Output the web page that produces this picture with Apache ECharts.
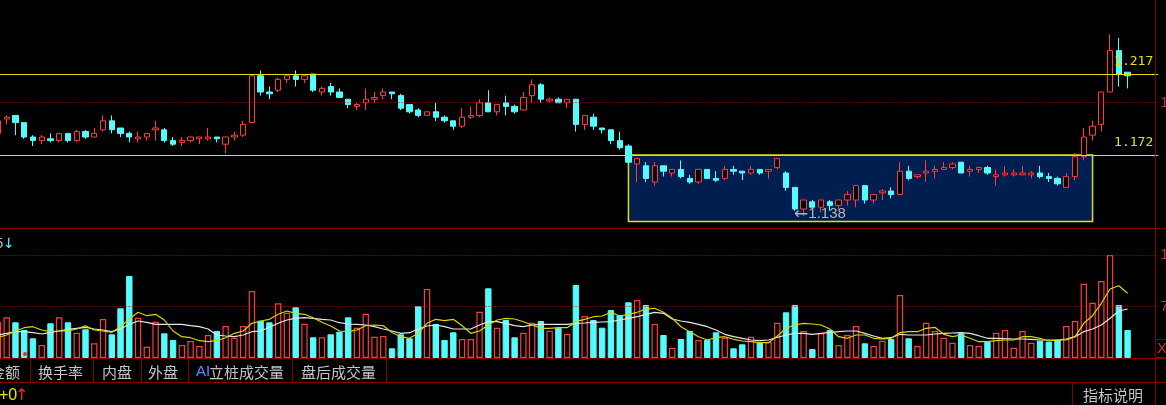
<!DOCTYPE html>
<html><head><meta charset="utf-8">
<script src="https://cdn.jsdelivr.net/npm/echarts@6/dist/echarts.min.js"></script>
<style>html,body{margin:0;padding:0;background:#000;overflow:hidden}#c{width:1166px;height:405px}</style>
</head><body><div id="c"></div><script>
// ---- data ----
const categories = Array.from({length:130}, (_, i) => 'D' + (i + 1));
const opens = [1.184,1.192,1.194,1.190,1.182,1.180,1.181,1.180,1.184,1.180,
1.185,1.182,1.186,1.191,1.187,1.184,1.181,1.182,1.186,1.186,
1.180,1.179,1.180,1.181,1.181,1.182,1.178,1.182,1.183,1.190,
1.216,1.207,1.208,1.214,1.216,1.214,1.217,1.207,1.210,1.207,
1.203,1.199,1.201,1.203,1.205,1.207,1.205,1.200,1.197,1.194,
1.196,1.193,1.191,1.188,1.193,1.194,1.201,1.196,1.201,1.199,
1.197,1.205,1.211,1.202,1.203,1.201,1.203,1.189,1.193,1.187,
1.186,1.180,1.177,1.167,1.166,1.157,1.166,1.162,1.164,1.159,
1.157,1.164,1.159,1.159,1.164,1.163,1.162,1.164,1.163,1.165,
1.162,1.154,1.142,1.146,1.143,1.146,1.144,1.147,1.147,1.155,
1.147,1.151,1.152,1.150,1.163,1.160,1.162,1.163,1.164,1.165,
1.168,1.163,1.164,1.165,1.160,1.161,1.161,1.161,1.161,1.162,
1.160,1.159,1.154,1.160,1.171,1.183,1.189,1.207,1.230,1.218];
const closes = [1.191,1.193,1.190,1.182,1.180,1.182,1.180,1.184,1.180,1.185,
1.182,1.184,1.191,1.186,1.184,1.182,1.182,1.184,1.187,1.180,
1.178,1.180,1.182,1.182,1.182,1.181,1.182,1.183,1.189,1.216,
1.207,1.206,1.214,1.216,1.214,1.216,1.208,1.209,1.207,1.204,
1.200,1.200,1.203,1.204,1.207,1.206,1.198,1.196,1.194,1.196,
1.193,1.191,1.188,1.193,1.194,1.201,1.196,1.200,1.199,1.196,
1.204,1.211,1.203,1.203,1.201,1.203,1.189,1.194,1.188,1.186,
1.180,1.176,1.168,1.170,1.159,1.166,1.163,1.164,1.160,1.157,
1.164,1.159,1.158,1.164,1.163,1.162,1.164,1.162,1.164,1.170,
1.154,1.142,1.147,1.143,1.147,1.144,1.147,1.150,1.155,1.147,
1.150,1.152,1.150,1.163,1.159,1.161,1.163,1.164,1.165,1.167,
1.162,1.164,1.165,1.162,1.161,1.162,1.162,1.162,1.162,1.160,
1.159,1.156,1.160,1.171,1.182,1.188,1.207,1.230,1.217,1.216];
const lows = [1.183,1.189,1.183,1.181,1.177,1.178,1.179,1.179,1.179,1.179,
1.181,1.182,1.185,1.184,1.182,1.179,1.179,1.180,1.180,1.179,
1.177,1.177,1.179,1.178,1.180,1.179,1.173,1.180,1.182,1.190,
1.205,1.203,1.207,1.212,1.210,1.212,1.207,1.205,1.205,1.204,
1.198,1.197,1.197,1.201,1.203,1.203,1.197,1.195,1.193,1.194,
1.191,1.190,1.186,1.187,1.192,1.193,1.196,1.194,1.194,1.195,
1.197,1.201,1.201,1.201,1.201,1.198,1.185,1.186,1.186,1.184,
1.178,1.175,1.168,1.157,1.157,1.155,1.160,1.160,1.159,1.156,
1.156,1.159,1.157,1.158,1.161,1.158,1.161,1.161,1.159,1.164,
1.152,1.141,1.138,1.141,1.140,1.141,1.142,1.144,1.143,1.145,
1.145,1.147,1.148,1.150,1.158,1.159,1.157,1.159,1.164,1.164,
1.162,1.160,1.162,1.161,1.155,1.160,1.160,1.161,1.159,1.159,
1.157,1.155,1.154,1.158,1.169,1.180,1.185,1.207,1.210,1.209];
const highs = [1.193,1.194,1.194,1.190,1.183,1.183,1.184,1.184,1.184,1.186,
1.186,1.187,1.194,1.194,1.187,1.185,1.185,1.184,1.191,1.187,
1.182,1.182,1.182,1.182,1.187,1.182,1.182,1.185,1.191,1.217,
1.219,1.210,1.215,1.216,1.219,1.217,1.217,1.210,1.212,1.209,
1.203,1.201,1.209,1.207,1.209,1.207,1.206,1.200,1.198,1.196,
1.201,1.194,1.191,1.198,1.199,1.203,1.208,1.200,1.205,1.200,
1.207,1.214,1.212,1.204,1.204,1.203,1.203,1.194,1.195,1.187,
1.186,1.185,1.178,1.170,1.168,1.168,1.166,1.164,1.169,1.161,
1.164,1.164,1.163,1.166,1.166,1.163,1.166,1.164,1.164,1.170,
1.163,1.154,1.147,1.147,1.147,1.147,1.147,1.152,1.155,1.155,
1.150,1.153,1.154,1.168,1.166,1.161,1.169,1.166,1.168,1.168,
1.168,1.166,1.165,1.166,1.164,1.166,1.164,1.166,1.163,1.166,
1.162,1.160,1.162,1.173,1.187,1.191,1.207,1.239,1.237,1.218];
const volumes = [4893,5532,4852,3806,2678,1767,4716,5532,4852,3439,
3901,1998,5301,3221,6755,11145,5478,1536,4934,3357,
2447,1767,2311,1631,3126,3670,4349,2759,4349,9107,
5070,4852,7435,6157,6891,4662,2814,2814,3221,3575,
5532,4118,6021,2895,2990,1318,3221,2678,7068,9378,
4621,2447,3493,2582,2582,6293,9474,4118,5165,2814,
3439,4798,5029,3711,4118,3262,9922,5709,5165,4118,
6524,5845,7571,7883,7204,4621,3126,1400,2582,3670,
2447,2447,3493,2759,1318,1862,2895,2175,2175,4798,
6212,7204,3670,1223,3357,3806,1767,3126,4349,1998,
1631,2351,2582,8563,2678,1631,4798,3670,2759,2080,
3357,1767,1631,2215,3439,3806,1400,3670,2080,2351,
2215,2447,4349,5029,10099,7516,10466,14000,7204,3806];
const volMA5 = [2814,3126,3670,4118,4254,3806,3575,3670,3670,3942,
4390,3806,3670,3493,4254,5301,6212,5749,5940,5165,
3670,2895,2759,2351,2215,2351,2759,3357,3670,4716,
5029,5260,5940,6388,6076,5940,5478,4852,4349,3670,
3575,3806,4390,4485,4390,3466,2895,2678,3357,4716,
5260,5070,5260,4390,3357,3670,4485,5165,5396,5301,
4934,4485,4037,4037,4118,4118,4934,5260,5613,5709,
6212,5709,5940,6212,6660,6755,6212,5396,4254,3575,
2895,2447,2759,2895,2542,2311,2215,2080,2080,2990,
4037,4485,4716,4621,4485,3942,2895,2678,3126,3126,
2678,2582,2678,3439,3575,3575,4037,4173,3221,2895,
3126,2678,2215,2215,2351,2447,2447,2895,2895,2678,
2311,2447,2447,2895,4716,5749,7435,9378,9827,8794];
const volMA10 = [3126,3357,3575,3575,3439,3262,3493,3670,3901,4037,
4173,3942,3806,3575,3942,4580,5029,4852,4580,4580,
4580,4580,4390,4254,3942,3126,2990,2895,3126,3575,
3670,4173,4716,5165,5396,5478,5396,5260,5165,4798,
4621,4580,4485,4254,3942,3670,3357,3439,3942,4349,
4485,4254,3942,3942,3942,4485,4934,4934,4716,4390,
4254,4485,4580,4580,4580,4580,4716,4757,4852,4893,
4934,5165,5396,5613,5940,6212,6076,5301,5029,4852,
4580,4254,3806,3221,2895,2678,2447,2351,2447,2814,
3126,3357,3357,3221,3357,3493,3575,3670,3670,3357,
2990,2678,2759,3221,3126,3126,3126,3262,3357,3398,
3439,3357,3031,2678,2678,2623,2582,2582,2542,2447,
2447,2447,2582,2895,3575,3942,4485,5396,6388,6660];
const lineLevels = [1.217, 1.172];          // drawn horizontal lines
const boxRange = {from: 72, to: 125, top: 1.172, bottom: 1.135}; // highlighted box
const priceTicks = [1.20117];
const volTicks = [7000, 14000];
const tabs = ['金额', '换手率', '内盘', '外盘', 'AI', '立桩成交量', '盘后成交量'];

// ---- chart ----
const UP = '#ff3c3c', DOWN = '#54fcfc', FRAME = '#800000', DOT = '#c00000', YEL = '#e2e200';
const TXT = '#c4c4c4';
const cats = categories.concat(['_a', '_b', '_c']);
const candle = opens.map((o, i) => [o, closes[i], lows[i], highs[i]]);
let minIdx = 0;
lows.forEach((v, i) => { if (v < lows[minIdx]) minIdx = i; });
const volData = volumes.map((v, i) => ({
  value: v,
  itemStyle: closes[i] >= opens[i]
    ? {color: '#000', borderColor: UP, borderWidth: 1.2}
    : {color: DOWN, borderColor: DOWN, borderWidth: 1}
}));

const GL = -6.44, GW = 1164.68;
const hideX = {show: false};
function xAx(g) {
  return {type: 'category', data: cats, gridIndex: g, boundaryGap: true,
    axisLine: hideX, axisTick: hideX, axisLabel: hideX, splitLine: hideX};
}
function yAx(g, min, max, ticks, fmt) {
  return {type: 'value', gridIndex: g, position: 'right', min: min, max: max,
    axisLine: hideX, axisTick: {show: false, customValues: ticks}, splitLine: hideX,
    axisLabel: {customValues: ticks, margin: 2, color: '#c83232', fontSize: 15,
      fontFamily: 'Liberation Sans', formatter: fmt}};
}
function line(x1, y1, x2, y2, c) {
  return {type: 'line', z: 100, silent: true, shape: {x1, y1, x2, y2},
    style: {stroke: c || FRAME, lineWidth: 1}};
}
function text(t, x, y, fill, size, font) {
  return {type: 'text', z: 101, silent: true, x: x, y: y,
    style: {text: t, fill: fill, font: (size || 15) + 'px ' + (font || '"Noto Sans CJK SC"'),
      verticalAlign: 'middle', align: 'left'}};
}

const graphics = [
  line(0, 228.5, 1166, 228.5),
  line(0, 358.5, 1166, 358.5),
  line(0, 382.5, 1166, 382.5),
  line(1155.5, 0, 1155.5, 405),
  line(30.5, 359, 30.5, 382), line(93.5, 359, 93.5, 382), line(141.5, 359, 141.5, 382),
  line(188.5, 359, 188.5, 382), line(292.5, 359, 292.5, 382), line(386.5, 359, 386.5, 382),
  line(1072.5, 383, 1072.5, 405),
  {type: 'rect', z: 100, silent: true, shape: {x: 1155.5, y: 339.5, width: 12, height: 18},
    style: {fill: '#000', stroke: FRAME, lineWidth: 1}},
  text('X', 1157, 349, '#c83232', 15, '"Liberation Sans"'),
  text(tabs[0], -10, 372, TXT),
  {type: 'circle', z: 101, silent: true, shape: {cx: 25, cy: 354, r: 2}, style: {fill: '#ff2020'}},
  text(tabs[1], 38, 372, TXT),
  text(tabs[2], 102, 372, TXT),
  text(tabs[3], 148, 372, TXT),
  text(tabs[4], 196, 372, '#5a8cff', 15, '"Liberation Sans"'),
  text(tabs[5], 209, 372, TXT),
  text(tabs[6], 301, 372, TXT),
  text('指标说明', 1083, 395, TXT),
  text('+0', -1, 396, '#e6e600', 16, '"Liberation Sans"'),
  text('↑', 15, 396, '#ff2020', 16, '"DejaVu Sans"'),
  text('5', -5, 244, '#bdbdbd', 15, '"Liberation Sans"'),
  text('↓', 3, 244, DOWN, 14, '"DejaVu Sans"')
];

const option = {
  backgroundColor: '#000',
  animation: false,
  grid: [
    {left: GL, top: 0, width: GW, height: 229, containLabel: false, outerBoundsMode: 'none'},
    {left: GL, top: 229, width: GW, height: 129, containLabel: false, outerBoundsMode: 'none'}
  ],
  xAxis: [xAx(0), xAx(1)],
  yAxis: [
    yAx(0, 1.130889, 1.258111, priceTicks, v => v.toFixed(3)),
    yAx(1, 0, 17534, volTicks, v => String(v))
  ],
  series: [
    {
      type: 'candlestick', xAxisIndex: 0, yAxisIndex: 0, data: candle, barWidth: 5.8,
      itemStyle: {color: '#000', color0: DOWN, borderColor: UP, borderColor0: DOWN, borderWidth: 1},
      markArea: {
        silent: true,
        itemStyle: {color: '#001e50', borderColor: YEL, borderWidth: 1.5},
        data: [[{coord: [boxRange.from, boxRange.top]}, {coord: [boxRange.to, boxRange.bottom]}]]
      },
      markLine: {
        silent: true, symbol: ['none', 'none'], precision: 5,
        data: lineLevels.map(v => ({
          yAxis: v, lineStyle: {color: YEL, type: 'solid', width: 1.2},
          label: {show: true, position: 'insideEndTop', distance: [5, 6], color: YEL,
            fontFamily: 'DejaVu Sans Mono', fontSize: 13, formatter: p => Number(p.value).toFixed(3)}
        })).concat(priceTicks.map(v => ({
          yAxis: v, lineStyle: {color: DOT, type: [1, 2], width: 1, opacity: 1}, label: {show: false}
        })))
      },
      markPoint: {
        silent: true, symbol: 'circle', symbolSize: 1, itemStyle: {color: 'rgba(0,0,0,0)'},
        data: [{coord: [minIdx, lows[minIdx]], value: lows[minIdx]}],
        label: {show: true, position: 'right', distance: 0, offset: [-10, -2],
          formatter: p => '{a|←}{b|' + Number(p.value).toFixed(3) + '}',
          rich: {
            a: {color: '#b4b4b4', fontSize: 17, fontFamily: 'DejaVu Sans'},
            b: {color: '#b4b4b4', fontSize: 15, fontFamily: 'Liberation Sans'}
          }}
      }
    },
    {
      type: 'bar', xAxisIndex: 1, yAxisIndex: 1, data: volData, barWidth: 6.4,
      markLine: {
        silent: true, symbol: ['none', 'none'], precision: 0,
        data: volTicks.map(v => ({yAxis: v, lineStyle: {color: DOT, type: [1, 2], width: 1, opacity: 1}, label: {show: false}}))
      }
    },
    {type: 'line', xAxisIndex: 1, yAxisIndex: 1, data: volMA10, showSymbol: false, silent: true,
      lineStyle: {color: '#e6e6e6', width: 1.2}},
    {type: 'line', xAxisIndex: 1, yAxisIndex: 1, data: volMA5, showSymbol: false, silent: true,
      lineStyle: {color: '#d6d600', width: 1.2}}
  ],
  graphic: graphics
};
const chart = echarts.init(document.getElementById('c'));
chart.setOption(option);
</script></body></html>
